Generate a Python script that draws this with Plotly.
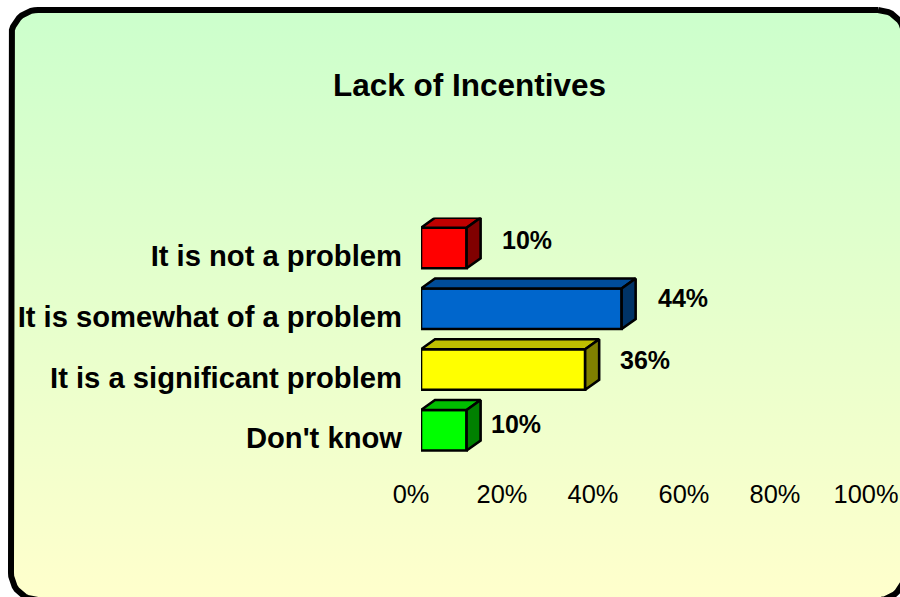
import math
import plotly.graph_objects as go

# ---- data ----
title_text = "Lack of Incentives"
categories = ["It is not a problem", "It is somewhat of a problem",
              "It is a significant problem", "Don't know"]
values = [10, 44, 36, 10]
x_ticks = [0, 20, 40, 60, 80, 100]
front_colors = ["#FF0000", "#0066CC", "#FFFF00", "#00FF00"]
top_colors = ["#C00000", "#004C99", "#BFBF00", "#00BF00"]
side_colors = ["#800000", "#003366", "#808000", "#008000"]
label_nudge_x = [33, 34, 33, 22]
label_nudge_y = [8, 11, 9, 6]

# ---- page geometry (pixels) ----
W, H = 900, 597
X0, X100 = 421, 877
AX_SHIFT_X, AX_SHIFT_Y = -10, 8
Y_TOP, Y_BOT = 217.6, 460.6
DEPTH_X, DEPTH_Y = 14, 10
BAR_FRAC = 40.5 / 60.75
px_per_x = (X100 - X0) / 100
px_per_y = (Y_BOT - Y_TOP) / 4
dx, dy = DEPTH_X / px_per_x, DEPTH_Y / px_per_y
FONT = "Liberation Sans"
EDGE = 2.6

fig = go.Figure()


# rounded panel behind everything
def rounded_panel(l, t, r, b, rad, steps=12):
    xs, ys = [], []
    corners = [(r - rad, t + rad, -90), (r - rad, b - rad, 0),
               (l + rad, b - rad, 90), (l + rad, t + rad, 180)]
    for cx, cy, a0 in corners:
        for k in range(steps + 1):
            a = math.radians(a0 + 90 * k / steps)
            xs.append(cx + rad * math.cos(a))
            ys.append(cy + rad * math.sin(a))
    xs.append(xs[0])
    ys.append(ys[0])
    return xs, ys


px, py = rounded_panel(11, 10, 905, 600, 27)
fig.add_trace(go.Scatter(
    x=px, y=py, mode="lines", line=dict(color="#000000", width=6),
    fill="toself",
    fillgradient=dict(type="vertical",
                      colorscale=[[0, "#FFFFCC"], [1, "#CCFFCC"]]),
    hoverinfo="skip", showlegend=False, xaxis="x", yaxis="y"))

# 3D faces and front bars
positions = list(range(len(categories)))
half = BAR_FRAC / 2
for pos, val, tc, sc in zip(positions, values, top_colors, side_colors):
    fig.add_trace(go.Scatter(
        x=[0, dx, val + dx, val, 0],
        y=[pos - half, pos - half - dy, pos - half - dy, pos - half, pos - half],
        mode="lines", fill="toself", fillcolor=tc,
        line=dict(color="#000000", width=EDGE), hoverinfo="skip",
        showlegend=False, xaxis="x2", yaxis="y2"))
    fig.add_trace(go.Scatter(
        x=[val, val + dx, val + dx, val, val],
        y=[pos - half, pos - half - dy, pos + half - dy, pos + half, pos - half],
        mode="lines", fill="toself", fillcolor=sc,
        line=dict(color="#000000", width=EDGE), hoverinfo="skip",
        showlegend=False, xaxis="x2", yaxis="y2"))
fig.add_trace(go.Bar(
    x=values, y=positions, orientation="h", width=BAR_FRAC,
    marker=dict(color=front_colors, line=dict(color="#000000", width=EDGE)),
    hoverinfo="skip", showlegend=False, xaxis="x2", yaxis="y2"))

# invisible trace that carries the shifted tick-label axes
fig.add_trace(go.Scatter(
    x=values, y=positions, mode="markers", marker=dict(opacity=0),
    hoverinfo="skip", showlegend=False, xaxis="x3", yaxis="y3"))

annotations = [
    dict(x=v, y=p, xref="x2", yref="y2", text=f"<b>{v}%</b>", showarrow=False,
         xanchor="left", yanchor="middle", xshift=nx, yshift=ny,
         font=dict(family=FONT, size=25, color="#000000"))
    for v, p, nx, ny in zip(values, positions, label_nudge_x, label_nudge_y)
]
annotations.append(dict(
    x=469 / W, y=1 - 85 / H, xref="paper", yref="paper",
    text=f"<b>{title_text}</b>", showarrow=False, xanchor="center",
    yanchor="middle", font=dict(family=FONT, size=31.5, color="#000000")))

hidden = dict(visible=False, showgrid=False, zeroline=False)
fig.update_layout(
    width=W, height=H, autosize=False,
    margin=dict(l=0, r=0, t=0, b=0, autoexpand=False),
    paper_bgcolor="#FFFFFF", plot_bgcolor="rgba(0,0,0,0)",
    showlegend=False, annotations=annotations,
    xaxis=dict(domain=[0, 1], range=[0, W], **hidden),
    yaxis=dict(domain=[0, 1], range=[H, 0], **hidden),
    xaxis2=dict(domain=[X0 / W, X100 / W], range=[0, 100], anchor="y2", **hidden),
    yaxis2=dict(domain=[1 - Y_BOT / H, 1 - Y_TOP / H], range=[3.5, -0.5],
                anchor="x2", **hidden),
    xaxis3=dict(domain=[(X0 + AX_SHIFT_X) / W, (X0 + AX_SHIFT_X + 455) / W],
                range=[0, 100], anchor="y3", tickmode="array",
                tickvals=x_ticks, ticktext=[f"{t}%" for t in x_ticks],
                tickfont=dict(family=FONT, size=25.4, color="#000000"),
                ticks="", showgrid=False, zeroline=False, showline=False,
                ticklabelstandoff=8, automargin=False),
    yaxis3=dict(domain=[1 - (Y_BOT + AX_SHIFT_Y) / H, 1 - (Y_TOP + AX_SHIFT_Y) / H],
                range=[3.5, -0.5], anchor="x3", tickmode="array",
                tickvals=positions,
                ticktext=[f"<b>{c}</b>" for c in categories],
                tickfont=dict(family=FONT, size=29.2, color="#000000"),
                ticks="", showgrid=False, zeroline=False, showline=False,
                ticklabelstandoff=8, automargin=False),
)

fig.write_html("out.html", config=dict(displayModeBar=False),
               post_script="document.body.style.margin='0';"
                           "document.documentElement.style.overflow='hidden';")
